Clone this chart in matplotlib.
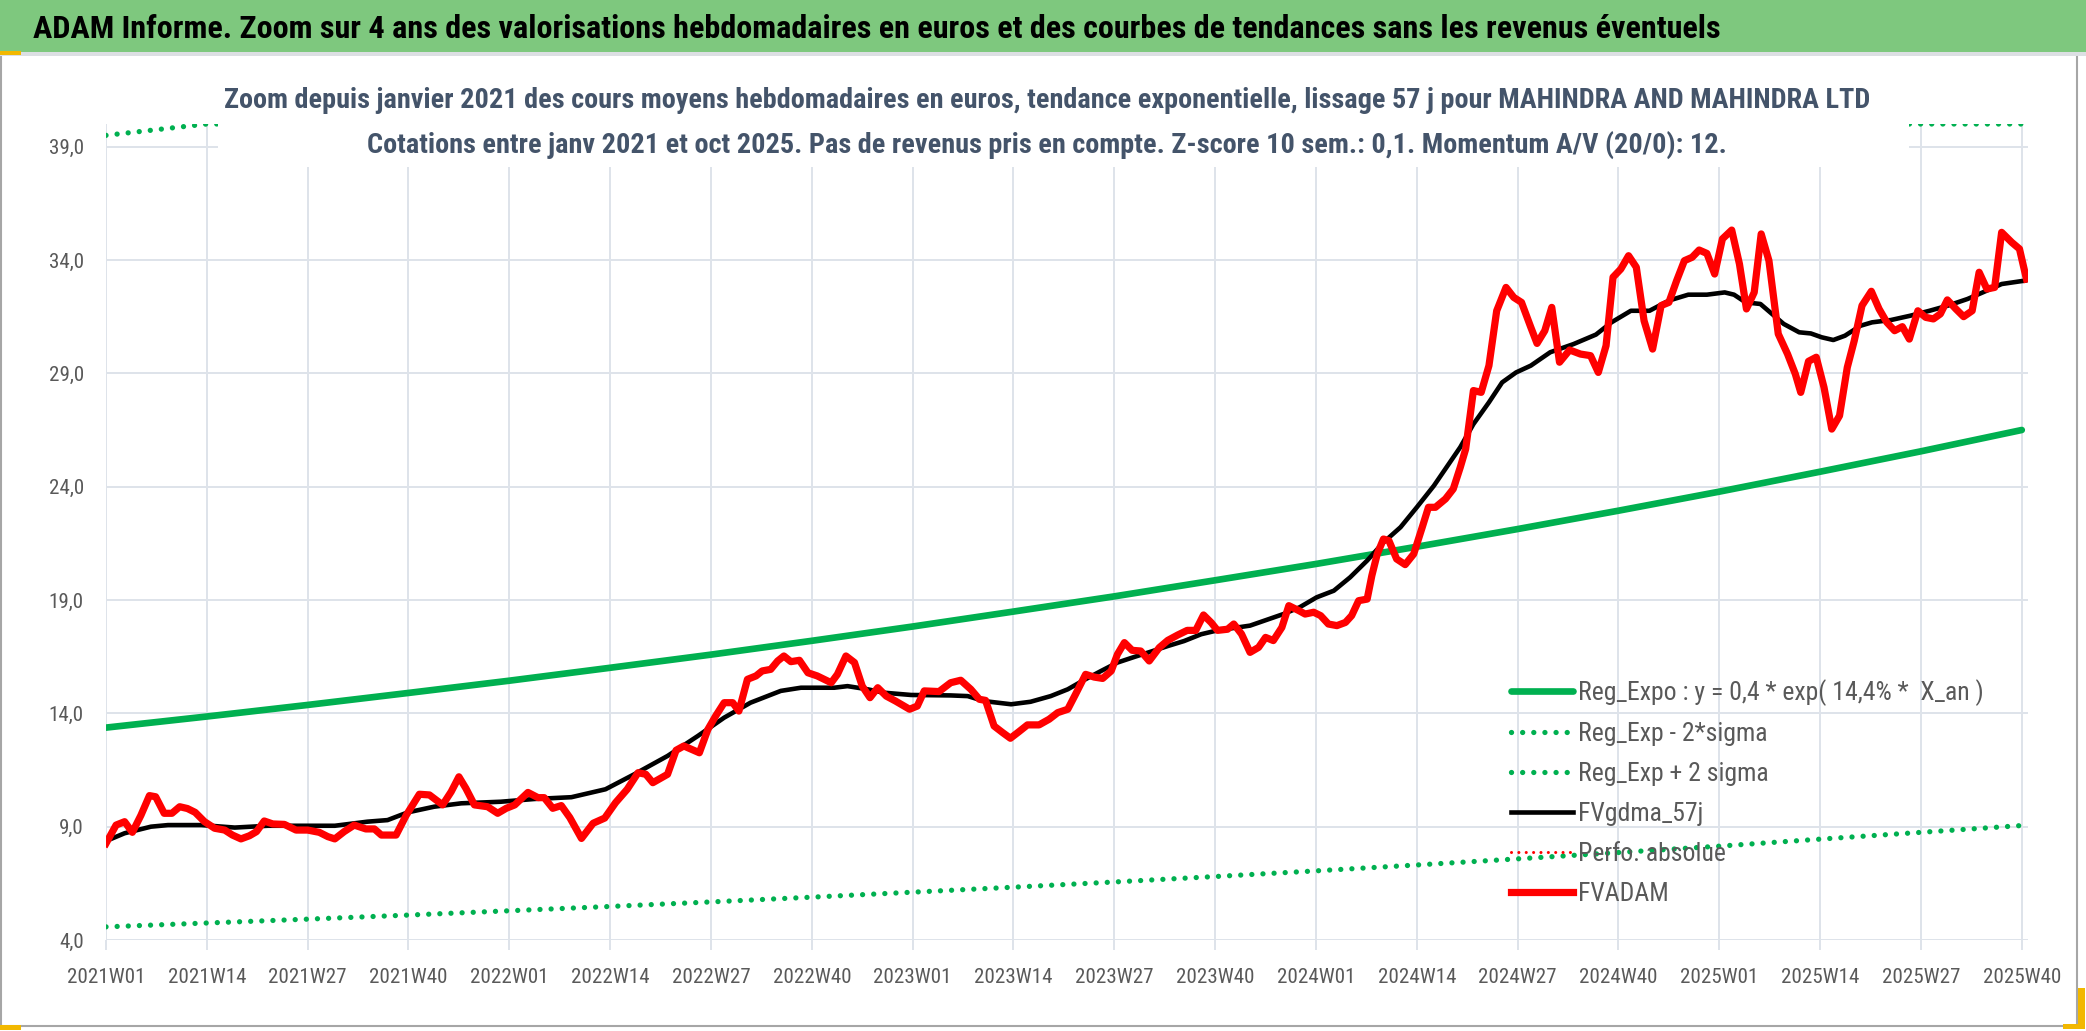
import numpy as np
import matplotlib
matplotlib.use('Agg')
import matplotlib.pyplot as plt
from matplotlib import font_manager as fm
from matplotlib.patches import Rectangle

# ---- data (week index 0 = 2021W01) ----
tick_weeks = [0, 13, 26, 39, 52, 65, 78, 91, 104, 117, 130, 143, 156, 169, 182, 195, 208, 221, 234, 247]
tick_labels = ['2021W01', '2021W14', '2021W27', '2021W40', '2022W01', '2022W14', '2022W27', '2022W40',
               '2023W01', '2023W14', '2023W27', '2023W40', '2024W01', '2024W14', '2024W27', '2024W40',
               '2025W01', '2025W14', '2025W27', '2025W40']
y_ticks = [4, 9, 14, 19, 24, 29, 34, 39]
y_labels = ['4,0', '9,0', '14,0', '19,0', '24,0', '29,0', '34,0', '39,0']

# trend curves, read at each tick
reg_expo = [13.37, 13.86, 14.37, 14.90, 15.44, 16.01, 16.59, 17.20, 17.83, 18.49,
            19.16, 19.87, 20.59, 21.35, 22.13, 22.94, 23.78, 24.66, 25.56, 26.50]
reg_low = [4.58, 4.75, 4.92, 5.10, 5.29, 5.48, 5.68, 5.89, 6.11, 6.33,
           6.56, 6.80, 7.05, 7.31, 7.58, 7.86, 8.14, 8.45, 8.75, 9.05]
reg_high = [39.5, 40.9, 42.4, 44.0, 45.6, 47.3, 49.0, 50.8, 52.6, 54.6,
            56.5, 58.6, 60.8, 63.0, 65.3, 67.7, 70.2, 72.8, 75.5, 78.2]

gdma_weeks = [0.3, 2.4, 5.8, 8, 12.3, 16.6, 20.9, 29.5, 33.7, 36.3, 38.9, 42.3, 45.8, 50.9, 55.2, 60,
              64.4, 68.1, 72.4, 76.3, 79.7, 83.1, 87, 89.6, 93.9, 95.6, 98.2, 100.3, 103.8, 108.9,
              111.1, 113.2, 116.7, 119.2, 121.8, 124, 126.1, 128.3, 130.4, 132.6, 134.7, 136.9, 139,
              141.2, 143.3, 147.5, 151.8, 153.9, 156.1, 158.3, 160.4, 162.6, 164.7, 166.9, 169, 171.2,
              174.6, 176.3, 178.3, 180, 181.8, 183.7, 186.2, 189.2, 192.1, 194.1, 196.6, 199, 201.5,
              204, 206.4, 208.7, 209.9, 211.4, 213.3, 214.8, 216.3, 218.3, 219.8, 221.2, 222.7, 224.2,
              226.2, 227.7, 230.1, 232.6, 235.1, 237.5, 240, 242.5, 244.4, 247.4]
gdma_vals = [8.41, 8.71, 9.0, 9.07, 9.07, 8.96, 9.04, 9.04, 9.22, 9.29, 9.63, 9.88, 10.03, 10.1, 10.22, 10.3,
             10.65, 11.31, 12.12, 13.0, 13.81, 14.47, 14.99, 15.13, 15.13, 15.2, 15.06, 14.91, 14.81, 14.79,
             14.76, 14.54, 14.4, 14.51, 14.76, 15.06, 15.47, 15.87, 16.24, 16.49, 16.72, 16.97, 17.19,
             17.49, 17.66, 17.87, 18.38, 18.68, 19.12, 19.41, 20.0, 20.74, 21.54, 22.21, 23.09, 24.04,
             25.74, 26.76, 27.72, 28.6, 29.04, 29.34, 29.93, 30.29, 30.71, 31.25, 31.76, 31.76, 32.21,
             32.47, 32.47, 32.57, 32.47, 32.13, 32.06, 31.62, 31.18, 30.81, 30.76, 30.59, 30.47, 30.66,
             31.1, 31.25, 31.35, 31.54, 31.76, 31.99, 32.28, 32.65, 32.94, 33.09]

adam_weeks = [0, 1.3, 2.4, 3.4, 4.5, 5.6, 6.4, 7.5, 8.5, 9.5, 10.5, 11.5, 12.7, 14, 15.3, 16.3, 17.4, 18.5,
              19.4, 20.4, 21.5, 23, 24.5, 26, 27.5, 28.6, 29.5, 30.7, 32, 33.5, 34.6, 35.5, 37.4, 38.7,
              40.4, 41.7, 43.4, 44.5, 45.5, 46.4, 47.5, 49.2, 50.5, 51.6, 52.7, 54.4, 55.7, 56.5, 57.6,
              58.7, 59.8, 61.3, 62.8, 64.3, 65.7, 67.2, 68.6, 69.6, 70.5, 72.4, 73.5, 74.5, 76.5, 77.6,
              78.6, 79.7, 80.8, 81.6, 82.7, 83.8, 84.6, 85.7, 86.6, 87.4, 88.3, 89.4, 90.5, 91.7, 93.5,
              94.3, 95.4, 96.5, 97.5, 98.5, 99.5, 100.6, 101.8, 103.6, 104.6, 105.5, 107.4, 108.9, 110.2,
              111.5, 112.6, 113.4, 114.5, 115.6, 116.6, 117.7, 118.8, 120.3, 121.6, 122.7, 124, 125,
              126.3, 127.4, 128.5, 129.6, 130.4, 131.3, 132.3, 133.4, 134.5, 135.8, 136.9, 138.2, 139.4,
              140.5, 141.5, 142.5, 143.3, 144.6, 145.4, 146.4, 147.5, 148.6, 149.5, 150.5, 151.6, 152.5,
              153.8, 154.6, 155.7, 156.6, 157.6, 158.7, 159.8, 160.6, 161.5, 162.6, 163.2, 163.9, 164.7,
              165.4, 166.4, 167.5, 168.6, 169.7, 170.5, 171.4, 172.7, 173.7, 174.6, 175.3, 176.3, 177.3,
              178.3, 179.3, 180.5, 181.5, 182.5, 183.7, 184.5, 185.5, 186.4, 187.4, 188.7, 190.1, 191.4,
              192.4, 193.4, 194.3, 195.3, 196.3, 197.3, 198.3, 199.4, 200.5, 201.5, 202.5, 203.5, 204.5,
              205.4, 206.4, 207.4, 208.4, 209.6, 210.6, 211.5, 212.5, 213.4, 214.4, 215.6, 216.8, 217.8,
              218.5, 219.5, 220.5, 221.5, 222.5, 223.5, 224.5, 225.4, 226.4, 227.6, 228.6, 229.6, 230.6,
              231.6, 232.5, 233.6, 234.6, 235.6, 236.5, 237.4, 238.5, 239.5, 240.6, 241.5, 242.5, 243.5,
              244.4, 245.7, 246.7, 247.6]
adam_vals = [8.26, 9.07, 9.22, 8.75, 9.5, 10.37, 10.32, 9.59, 9.59, 9.88, 9.8, 9.63, 9.22, 8.93, 8.85, 8.63,
             8.46, 8.6, 8.78, 9.25, 9.12, 9.1, 8.85, 8.85, 8.75, 8.56, 8.46, 8.78, 9.07, 8.9, 8.9, 8.63,
             8.63, 9.5, 10.43, 10.4, 9.96, 10.54, 11.2, 10.69, 9.96, 9.88, 9.59, 9.81, 9.96, 10.51, 10.28,
             10.28, 9.81, 9.93, 9.4, 8.48, 9.15, 9.38, 10.06, 10.65, 11.38, 11.31, 10.94, 11.31, 12.37,
             12.56, 12.26, 13.29, 13.88, 14.47, 14.47, 14.1, 15.5, 15.65, 15.87, 15.94, 16.31, 16.53,
             16.28, 16.34, 15.79, 15.65, 15.35, 15.72, 16.53, 16.24, 15.2, 14.69, 15.13, 14.76, 14.54,
             14.18, 14.32, 14.99, 14.96, 15.35, 15.46, 15.06, 14.62, 14.57, 13.44, 13.15, 12.9, 13.19,
             13.49, 13.49, 13.74, 14.03, 14.18, 14.84, 15.72, 15.6, 15.54, 15.87, 16.6, 17.12, 16.78,
             16.75, 16.31, 16.9, 17.22, 17.46, 17.66, 17.66, 18.34, 18.0, 17.66, 17.71, 17.94, 17.5,
             16.69, 16.91, 17.35, 17.21, 17.79, 18.75, 18.53, 18.38, 18.46, 18.31, 17.94, 17.87, 18.01,
             18.31, 18.97, 19.04, 20.07, 21.03, 21.69, 21.62, 20.81, 20.56, 21.03, 22.21, 23.09, 23.09,
             23.46, 23.9, 24.85, 25.66, 28.24, 28.16, 29.34, 31.76, 32.79, 32.35, 32.13, 31.03, 30.32,
             30.88, 31.91, 29.49, 30.03, 29.85, 29.78, 29.04, 30.22, 33.24, 33.6, 34.19, 33.68, 31.32,
             30.07, 31.99, 32.13, 33.09, 33.97, 34.12, 34.44, 34.29, 33.38, 34.93, 35.32, 33.82, 31.84,
             32.57, 35.15, 33.97, 30.74, 29.85, 28.97, 28.16, 29.53, 29.71, 28.38, 26.54, 27.13, 29.26,
             30.44, 31.99, 32.62, 31.84, 31.25, 30.88, 31.06, 30.51, 31.76, 31.47, 31.4, 31.62, 32.24,
             31.84, 31.5, 31.76, 33.46, 32.72, 32.79, 35.22, 34.78, 34.49, 33.16]

title = ("ADAM Informe. Zoom sur 4 ans des valorisations hebdomadaires en euros "
         "et des courbes de tendances sans les revenus éventuels")
sub1 = ("Zoom depuis janvier 2021 des cours moyens hebdomadaires en euros, tendance exponentielle, "
        "lissage 57 j pour MAHINDRA AND MAHINDRA LTD")
sub2 = ("Cotations entre janv 2021 et oct 2025. Pas de revenus pris en compte. "
        "Z-score 10 sem.: 0,1. Momentum A/V (20/0): 12.")
legend_labels = ['Reg_Expo : y = 0,4 * exp( 14,4% *  X_an )', 'Reg_Exp - 2*sigma',
                 'Reg_Exp + 2 sigma', 'FVgdma_57j', 'Perfo. absolue', 'FVADAM']


# ---- fonts: a condensed face if one is installed, else Open Sans ----
def narrow_font(bold):
    want = ['Liberation Sans Narrow', 'Roboto Condensed', 'Open Sans Condensed', 'Noto Sans',
            'DejaVu Sans', 'Open Sans', 'Roboto']
    found = []
    for f in fm.fontManager.ttflist:
        name = f.fname.lower()
        if not ('condensed' in name or 'narrow' in name or str(f.stretch) in ('condensed', 'semi-condensed')):
            continue
        if 'semi' in name or 'extra' in name or 'ultra' in name or 'italic' in name or 'oblique' in name:
            continue
        isbold = f.weight in ('bold', 700) or 'bold' in name
        if isbold != bold:
            continue
        if not bold and any(k in name for k in ('light', 'thin', 'medium', 'black', 'semibold')):
            continue
        if bold and any(k in name for k in ('semibold', 'extrabold')):
            continue
        rank = want.index(f.name) if f.name in want else len(want)
        found.append((rank, f.fname))
    if found:
        found.sort()
        return fm.FontProperties(fname=found[0][1])
    return fm.FontProperties(family=['Open Sans', 'DejaVu Sans'], weight='bold' if bold else 'normal')


font_b = narrow_font(True)
font_r = narrow_font(False)

# ---- figure ----
W, H = 2086, 1031
fig = plt.figure(figsize=(W / 100, H / 100), dpi=100)
renderer = fig.canvas.get_renderer()


def fx(px):
    return px / W


def fy(py):
    return 1 - py / H


def fit(t, target):
    w = t.get_window_extent(renderer).width
    t.set_fontsize(t.get_fontsize() * target / w)
    return t


def size_for(text, props, target):
    p = fig.text(0, 0, text, fontproperties=props, fontsize=16)
    fit(p, target)
    s = p.get_fontsize()
    p.remove()
    return s


# frame and header bar
fig.patches.append(Rectangle((fx(1), fy(1026)), fx(2076), fy(54) - fy(1026), transform=fig.transFigure,
                             fill=False, edgecolor='#A6A6A6', lw=1.5, zorder=0))
fig.patches.append(Rectangle((0, fy(52)), 1, fy(0) - fy(52), transform=fig.transFigure,
                             facecolor='#7EC87E', edgecolor='none', zorder=1))
fig.patches.append(Rectangle((0, fy(56)), 1, fy(52) - fy(56), transform=fig.transFigure,
                             facecolor='#DCDFE3', edgecolor='none', zorder=1))
for (x0, y0, x1, y1) in [(0, 51, 21, 55), (0, 1025, 21, 1030), (2078, 988, 2085, 1028), (2063, 1024, 2085, 1029)]:
    fig.patches.append(Rectangle((fx(x0), fy(y1)), fx(x1 - x0), fy(y0) - fy(y1), transform=fig.transFigure,
                                 facecolor='#F2B800', edgecolor='none', zorder=2))

t = fig.text(fx(33), fy(29), title, ha='left', va='center', fontproperties=font_b, fontsize=24, color='black')
fit(t, 1697)

# plot area
ax = fig.add_axes([fx(106), fy(940), fx(2028) - fx(106), fy(124) - fy(940)])
ax.set_facecolor('white')
grid_c = '#DEE3EA'
dots = (0, (0.01, 2.1))

ax.plot(tick_weeks, reg_expo, color='#00B050', lw=4.8, solid_capstyle='round', label=legend_labels[0])
ax.plot(tick_weeks, reg_low, color='#00B050', lw=3.8, ls=dots, dash_capstyle='round', label=legend_labels[1])
ax.plot(tick_weeks, np.minimum(reg_high, 40), color='#00B050', lw=3.8, ls=dots, dash_capstyle='round',
        label=legend_labels[2])
ax.plot(gdma_weeks, gdma_vals, color='black', lw=3.3, label=legend_labels[3])
ax.plot([], [], color='#FF0000', lw=2.2, ls=(0, (0.01, 2.4)), dash_capstyle='round', label=legend_labels[4])
ax.plot(adam_weeks, adam_vals, color='#FF0000', lw=5.2, solid_joinstyle='round', label=legend_labels[5])

tfs = size_for('2021W01', font_r, 78)
ax.set_xlim(0, 247.8)
ax.set_ylim(4, 40)
ax.set_xticks(tick_weeks)
ax.set_xticklabels(tick_labels, fontproperties=font_r, fontsize=tfs, color='#595959')
ax.set_yticks(y_ticks)
ax.set_yticklabels(y_labels, fontproperties=font_r, fontsize=tfs, color='#595959')
ax.grid(True, color=grid_c, lw=1.4)
ax.set_axisbelow(True)
for s in ax.spines.values():
    s.set_visible(False)
ax.tick_params(axis='x', length=7, width=1.4, color=grid_c, pad=13)
ax.tick_params(axis='y', length=0, pad=16)

# legend: size from the width of the first label, then row pitch and position
lfs = size_for(legend_labels[0], font_r, 408)
lpx = lfs * 100 / 72
font_l = font_r.copy()
font_l.set_size(lfs)


def make_legend(spacing, top):
    return ax.legend(loc='upper left', bbox_to_anchor=(fx(1511), fy(top)), bbox_transform=fig.transFigure,
                     frameon=False, prop=font_l, labelcolor='#595959',
                     handlelength=62 / lpx, handletextpad=5 / lpx, borderpad=0, borderaxespad=0,
                     labelspacing=spacing)


sp, top = 0.8, 674
leg = make_legend(sp, top)
fig.canvas.draw()
ext = [tx.get_window_extent(renderer) for tx in leg.get_texts()]
centers = [H - (e.y0 + e.y1) / 2 for e in ext]
pitch = (centers[-1] - centers[0]) / 5
sp = sp + (40.2 - pitch) / lpx
top = top + (693 - centers[0])
leg.remove()
leg = make_legend(sp, top)

# subtitle with white box over the plot top
fig.patches.append(Rectangle((fx(218), fy(167)), fx(1909 - 218), fy(62) - fy(167), transform=fig.transFigure,
                             facecolor='white', edgecolor='none', zorder=5))
s1 = fig.text(fx(1047), fy(100), sub1, ha='center', va='center', fontproperties=font_b, fontsize=18,
              color='#44546A', zorder=6)
fit(s1, 1643)
fig.text(fx(1047), fy(145), sub2, ha='center', va='center', fontproperties=font_b,
         fontsize=s1.get_fontsize(), color='#44546A', zorder=6)

fig.savefig('out.png', dpi=100, facecolor='white')
